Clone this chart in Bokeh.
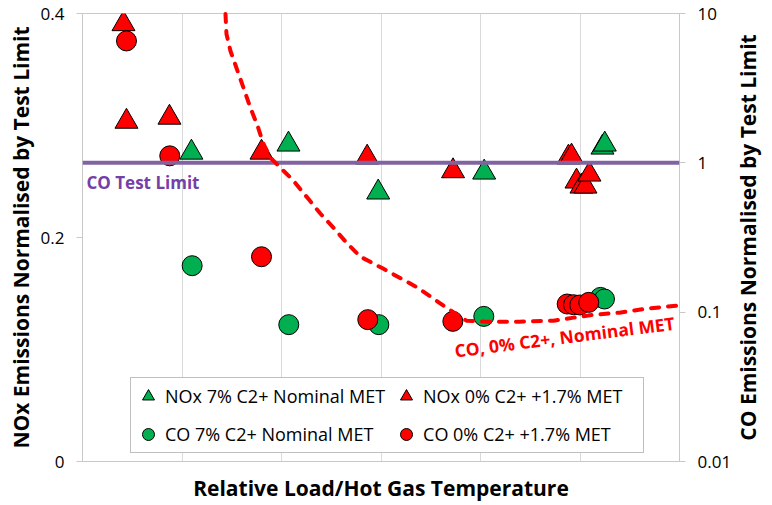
import math
from bokeh.plotting import figure
from bokeh.layouts import row
from bokeh.models import (Range1d, LogScale, LogAxis, FixedTicker,
                          CustomJSTickFormatter, Span, Label)
from bokeh.embed import file_html
from bokeh.resources import INLINE

# colors
color_green = '#00b050'
color_red = '#ff0000'
color_purple = '#8064a2'
color_grid = '#d9d9d9'
color_axis = '#c8c8c8'
FONT = 'Open Sans'

# ---- data (x = relative load / hot gas temperature, no units on the axis)
# NOx 7% C2+ Nominal MET  (left axis)
nox7_x = [1.095, 2.070, 2.972, 4.037, 5.226, 5.249]
nox7_y = [0.2759, 0.2831, 0.2403, 0.2581, 0.2804, 0.2831]
# NOx 0% C2+ +1.7% MET  (left axis)
nox0_x = [0.412, 0.442, 0.874, 1.799, 2.861, 3.724, 4.884, 4.915, 4.965, 5.015, 5.055, 5.095]
nox0_y = [0.3906, 0.3035, 0.3071, 0.2759, 0.2715, 0.2593, 0.2715, 0.2724, 0.2501, 0.2456, 0.2456, 0.2563]
# CO 7% C2+ Nominal MET  (right axis, log)
co7_x = [1.102, 2.073, 2.978, 4.033, 5.206, 5.246]
co7_y = [0.2047, 0.0825, 0.0825, 0.0937, 0.1256, 0.1225]
# CO 0% C2+ +1.7% MET  (right axis, log)
co0_x = [0.442, 0.877, 1.799, 2.867, 3.722, 4.871, 4.935, 4.998, 5.088]
co0_y = [6.55, 1.114, 0.235, 0.0891, 0.0868, 0.1134, 0.1122, 0.1117, 0.1163]
# CO, 0% C2+, Nominal MET curve  (right axis, log)
curve_x = [1.437, 1.447, 1.487, 1.558, 1.618, 1.688, 1.759, 1.819, 1.889, 1.990,
           2.121, 2.261, 2.392, 2.523, 2.663, 2.794, 3.025, 3.367, 3.628, 3.859,
           4.060, 4.392, 4.734, 4.935, 5.136, 5.397, 5.668, 5.970]
curve_y = [9.92, 7.29, 5.61, 4.13, 3.18, 2.33, 1.77, 1.34, 1.08, 0.926,
           0.758, 0.583, 0.456, 0.367, 0.287, 0.235, 0.195, 0.146, 0.1105, 0.0877,
           0.0864, 0.0864, 0.0877, 0.0919, 0.0962, 0.0992, 0.1055, 0.1105]
co_limit = 1.0

nox_ticks = [0, 0.2, 0.4]
co_ticks = [0.01, 0.1, 1, 10]
x_grid = [1, 2, 3, 4, 5]

# ------------------------
p = figure(width=734, height=505, x_range=Range1d(0, 6), y_range=Range1d(0, 0.4),
           output_backend='svg', toolbar_location=None, tools='',
           min_border_left=82, min_border_right=55, min_border_top=13, min_border_bottom=44)
p.extra_y_ranges = {'co': Range1d(0.01, 10)}
p.extra_y_scales = {'co': LogScale()}
p.background_fill_color = 'white'
p.border_fill_color = 'white'
p.outline_line_color = color_axis

fmt = CustomJSTickFormatter(code='return tick.toString()')

# left axis
p.yaxis.ticker = FixedTicker(ticks=nox_ticks)
p.yaxis.formatter = fmt
p.yaxis.axis_label = 'NOx Emissions Normalised by Test Limit'
# bottom axis (no ticks, only the label)
p.xaxis.ticker = FixedTicker(ticks=[])
p.xaxis.axis_label = 'Relative Load/Hot Gas Temperature'
p.xaxis.major_label_standoff = 0
p.xaxis.major_tick_out = 0
# right axis (log)
ax_r = LogAxis(y_range_name='co', ticker=FixedTicker(ticks=co_ticks), formatter=fmt)
p.add_layout(ax_r, 'right')

for ax in [p.yaxis[0], ax_r]:
    ax.major_tick_out = 6
    ax.major_tick_in = 0
    ax.major_label_standoff = 12
    ax.major_label_text_font_size = '17px'
for ax in [p.xaxis[0], p.yaxis[0], ax_r]:
    ax.axis_line_color = color_axis
    ax.major_tick_line_color = color_axis
    ax.minor_tick_line_color = None
    ax.major_label_text_font = FONT
    ax.major_label_text_color = 'black'
    ax.axis_label_text_font = FONT
    ax.axis_label_text_font_size = '21px'
    ax.axis_label_text_font_style = 'bold'
    ax.axis_label_text_color = 'black'
p.xaxis.major_label_text_font_size = '0px'
p.xaxis.axis_label_standoff = 12
p.yaxis.axis_label_standoff = 3

p.xgrid.ticker = FixedTicker(ticks=x_grid)
p.xgrid.grid_line_color = color_grid
p.ygrid.visible = False

# ------------------------
p.scatter(nox7_x, nox7_y, marker='triangle', size=23, fill_color=color_green,
          line_color='black', line_width=1, legend_label='NOx 7% C2+ Nominal MET')
p.scatter(nox0_x, nox0_y, marker='triangle', size=23, fill_color=color_red,
          line_color='black', line_width=1, legend_label='NOx 0% C2+ +1.7% MET')
p.scatter(co7_x, co7_y, marker='circle', size=20, fill_color=color_green, y_range_name='co',
          line_color='black', line_width=1, legend_label='CO 7% C2+ Nominal MET')
p.scatter(co0_x, co0_y, marker='circle', size=20, fill_color=color_red, y_range_name='co',
          line_color='black', line_width=1, legend_label='CO 0% C2+ +1.7% MET')

p.add_layout(Span(location=co_limit, dimension='width', y_range_name='co',
                  line_color=color_purple, line_width=4))
p.add_layout(Label(x=0.04, y=co_limit, y_range_name='co', y_offset=-20, text='CO Test Limit',
                   text_font=FONT, text_font_size='17px', text_font_style='bold',
                   text_color='#7440a8', text_baseline='alphabetic'))

p.line(curve_x, curve_y, y_range_name='co', line_color=color_red, line_width=4,
       line_dash='8 9', line_cap='round', level='overlay')
p.add_layout(Label(x=3.74, y=0.0553, y_range_name='co', angle=0.126, text='CO, 0% C2+, Nominal MET',
                   text_font=FONT, text_font_size='17.5px', text_font_style='bold',
                   text_color=color_red, text_baseline='alphabetic'))

# ------------------------
leg = p.legend[0]
leg.location = (48, 8)
leg.orientation = 'horizontal'
leg.ncols = 2
leg.margin = 0
leg.padding = 2
leg.spacing = 6
leg.glyph_width = 30
leg.glyph_height = 32
leg.label_standoff = 2
leg.label_width = 218
leg.label_text_font = FONT
leg.label_text_font_size = '18px'
leg.label_text_color = 'black'
leg.border_line_color = '#808080'
leg.background_fill_alpha = 1

# ------------------------
# narrow strip to the right: its left axis carries the CO axis title (reads bottom-to-top)
p2 = figure(width=38, height=505, x_range=Range1d(0, 1), y_range=Range1d(0, 1),
            output_backend='svg', toolbar_location=None, tools='', x_axis_location=None,
            min_border_left=32, min_border_right=0, min_border_top=13, min_border_bottom=44)
p2.margin = (0, 0, 0, -4)
p2.outline_line_color = None
p2.grid.visible = False
p2.background_fill_color = None
p2.border_fill_color = None
p2.yaxis.ticker = FixedTicker(ticks=[])
p2.yaxis.major_label_text_font_size = '0px'
p2.yaxis.major_label_standoff = 0
p2.yaxis.major_tick_out = 0
p2.yaxis.axis_line_color = None
p2.yaxis.axis_label = 'CO Emissions Normalised by Test Limit'
p2.yaxis.axis_label_standoff = 4
p2.yaxis.axis_label_text_font = FONT
p2.yaxis.axis_label_text_font_size = '21px'
p2.yaxis.axis_label_text_font_style = 'bold'
p2.yaxis.axis_label_text_color = 'black'

layout = row(p, p2)
open("out.html", "w").write(file_html(layout, INLINE))
